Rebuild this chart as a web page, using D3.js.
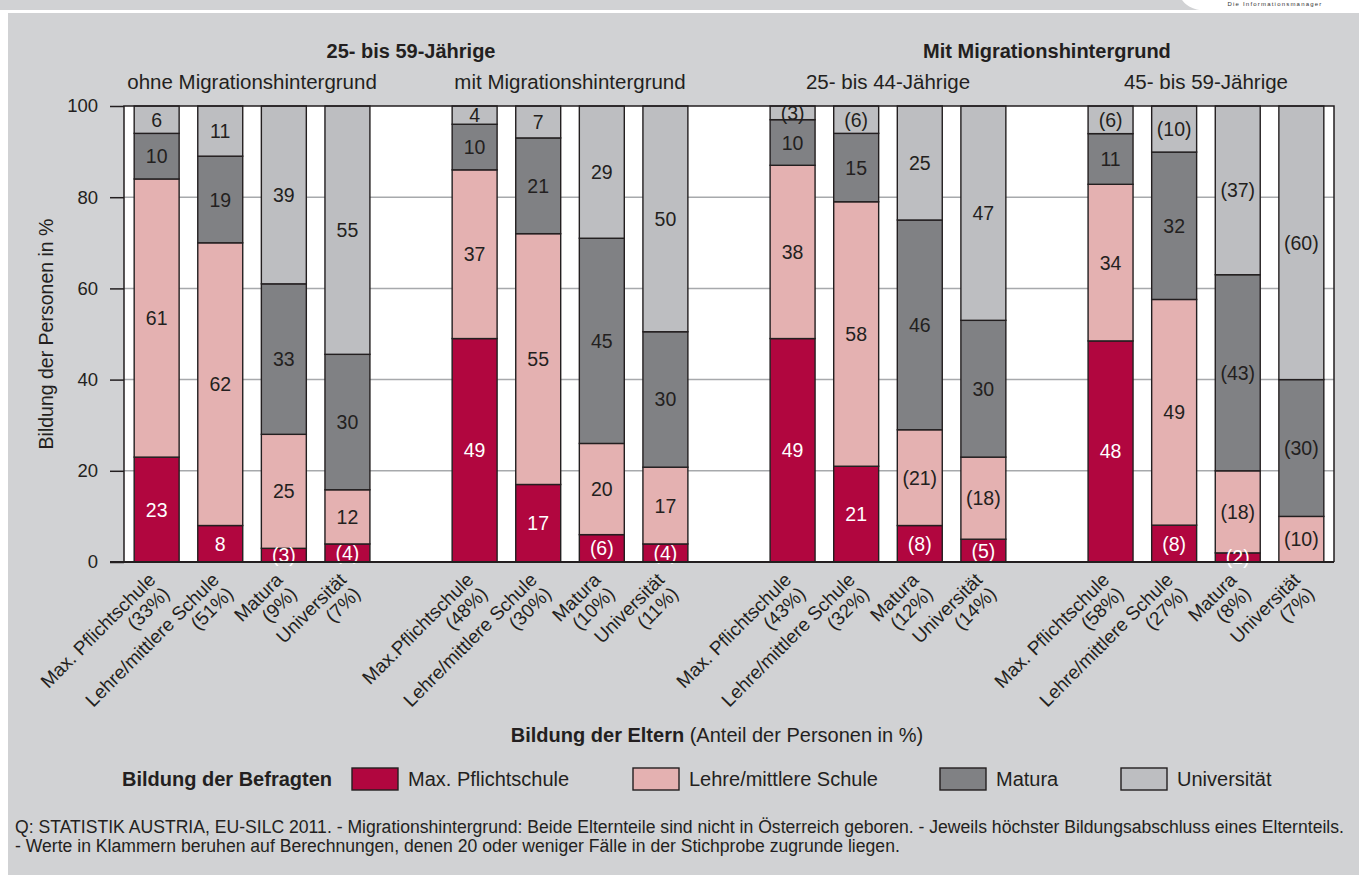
<!DOCTYPE html>
<html>
<head>
<meta charset="utf-8">
<script src="https://cdn.jsdelivr.net/npm/d3@7"></script>
<style>
  body { margin: 0; background: #fff; }
  svg { display: block; font-family: "Liberation Sans", Arial, Helvetica, sans-serif; }
</style>
</head>
<body>
<svg id="chart" width="1359" height="875"></svg>
<script>
// Daten
var gruppen = ["ohne Migrationshintergrund", "mit Migrationshintergrund", "25- bis 44-Jährige", "45- bis 59-Jährige"];
var obertitel = [
    { text: "25- bis 59-Jährige", von: 0, bis: 1 },
    { text: "Mit Migrationshintergrund", von: 2, bis: 3 }
];
var stufen = ["Max. Pflichtschule", "Lehre/mittlere Schule", "Matura", "Universität"];
var elternLabels = [
    ["Max. Pflichtschule", "Lehre/mittlere Schule", "Matura", "Universität"],
    ["Max.Pflichtschule", "Lehre/mittlere Schule", "Matura", "Universität"],
    ["Max. Pflichtschule", "Lehre/mittlere Schule", "Matura", "Universität"],
    ["Max. Pflichtschule", "Lehre/mittlere Schule", "Matura", "Universität"]
];
var anteilEltern = [[33, 51, 9, 7], [48, 30, 10, 11], [43, 32, 12, 14], [58, 27, 8, 7]];
// je Gruppe, je Elternbildung: [Pflichtschule, Lehre, Matura, Universität]
var werte = [
    [[23, 61, 10, 6], [8, 62, 19, 11], [3, 25, 33, 39], [4, 12, 30, 55]],
    [[49, 37, 10, 4], [17, 55, 21, 7], [6, 20, 45, 29], [4, 17, 30, 50]],
    [[49, 38, 10, 3], [21, 58, 15, 6], [8, 21, 46, 25], [5, 18, 30, 47]],
    [[48, 34, 11, 6], [8, 49, 32, 10], [2, 18, 43, 37], [0, 10, 30, 60]]
];
// 1 = Wert in Klammern (20 oder weniger Fälle)
var klammer = [
    [[0, 0, 0, 0], [0, 0, 0, 0], [1, 0, 0, 0], [1, 0, 0, 0]],
    [[0, 0, 0, 0], [0, 0, 0, 0], [1, 0, 0, 0], [1, 0, 0, 0]],
    [[0, 0, 0, 1], [0, 0, 0, 1], [1, 1, 0, 0], [1, 1, 0, 0]],
    [[0, 0, 0, 1], [1, 0, 0, 1], [1, 1, 1, 1], [1, 1, 1, 1]]
];
var yTicks = [0, 20, 40, 60, 80, 100];
var farben = ["#b1063f", "#e4b1b1", "#808184", "#bdbec1"];
var textFarben = ["#ffffff", "#231f20", "#231f20", "#231f20"];

var fussnote = [
    "Q: STATISTIK AUSTRIA, EU-SILC 2011. - Migrationshintergrund: Beide Elternteile sind nicht in Österreich geboren. - Jeweils höchster Bildungsabschluss eines Elternteils.",
    "- Werte in Klammern beruhen auf Berechnungen, denen 20 oder weniger Fälle in der Stichprobe zugrunde liegen."
];

var svg = d3.select("#chart");
var W = 1359, H = 875;
var plot = { left: 124, right: 1334, top: 106, bottom: 562 };
var dunkel = "#231f20";

// Hintergrund
svg.append("rect").attr("x", 0).attr("y", 0).attr("width", W).attr("height", H).attr("fill", "#fff");
svg.append("rect").attr("x", 0).attr("y", 0).attr("width", W).attr("height", 10).attr("fill", "#d1d2d4");
svg.append("path")
    .attr("d", "M1182,0 L1359,0 L1359,11 L1210,11 Q1190,11 1182,0 Z")
    .attr("fill", "#fff");
svg.append("text")
    .attr("x", 1275).attr("y", 6)
    .attr("text-anchor", "middle")
    .attr("font-size", 6).attr("letter-spacing", 1.2)
    .attr("fill", "#333")
    .text("Die Informationsmanager");
svg.append("rect").attr("x", 8).attr("y", 13).attr("width", W - 8).attr("height", H - 13).attr("fill", "#d1d2d4");

// Zeilen für die Balken
var rows = [];
var domain = [];
gruppen.forEach(function(g, gi) {
    if (gi > 0) domain.push("leer" + gi);
    for (var i = 0; i < 4; i++) {
        var key = gi + "-" + i;
        domain.push(key);
        rows.push({ key: key, gruppe: gi, i: i, label: elternLabels[gi][i], anteil: anteilEltern[gi][i],
                    werte: werte[gi][i], klammer: klammer[gi][i] });
    }
});

var x = d3.scaleBand().domain(domain).range([plot.left, plot.right]).paddingInner(0.293).paddingOuter(0.16);
var y = d3.scaleLinear().domain([0, 100]).range([plot.bottom, plot.top]);

var stack = d3.stack()
    .keys([0, 1, 2, 3])
    .value(function(d, k) { return d.werte[k]; })
    .offset(d3.stackOffsetExpand);
var serien = stack(rows);

// Plotfläche
svg.append("rect")
    .attr("x", plot.left).attr("y", plot.top)
    .attr("width", plot.right - plot.left).attr("height", plot.bottom - plot.top)
    .attr("fill", "#fff");

svg.append("g").selectAll("line")
    .data(yTicks.filter(function(t) { return t > 0 && t < 100; }))
    .join("line")
    .attr("x1", plot.left).attr("x2", plot.right)
    .attr("y1", function(d) { return y(d); }).attr("y2", function(d) { return y(d); })
    .attr("stroke", "#a7a9ac").attr("stroke-width", 1.5);

// Balken
var ebenen = svg.append("g").selectAll("g")
    .data(serien)
    .join("g")
    .attr("fill", function(s) { return farben[s.key]; });

ebenen.selectAll("rect")
    .data(function(s) { return s.filter(function(d) { return d[1] > d[0]; }); })
    .join("rect")
    .attr("x", function(d) { return x(d.data.key); })
    .attr("width", x.bandwidth())
    .attr("y", function(d) { return y(d[1] * 100); })
    .attr("height", function(d) { return y(d[0] * 100) - y(d[1] * 100); })
    .attr("stroke", dunkel).attr("stroke-width", 1.4);

// Wertbeschriftungen
serien.forEach(function(s) {
    var k = s.key;
    svg.append("g").selectAll("text")
        .data(s.filter(function(d) { return d.data.werte[k] > 0; }))
        .join("text")
        .attr("x", function(d) { return x(d.data.key) + x.bandwidth() / 2; })
        .attr("y", function(d) { return y((d[0] + d[1]) * 50); })
        .attr("dy", "0.36em")
        .attr("text-anchor", "middle")
        .attr("font-size", 19.5)
        .attr("fill", textFarben[k])
        .text(function(d) {
            var v = d.data.werte[k];
            return d.data.klammer[k] ? "(" + v + ")" : v;
        });
});

// Rahmen und Achsen
svg.append("path")
    .attr("d", "M" + plot.left + "," + plot.bottom + "V" + plot.top + "H" + plot.right + "V" + plot.bottom)
    .attr("fill", "none").attr("stroke", dunkel).attr("stroke-width", 1.5);
svg.append("line")
    .attr("x1", 110).attr("x2", plot.right)
    .attr("y1", plot.bottom).attr("y2", plot.bottom)
    .attr("stroke", dunkel).attr("stroke-width", 1.8);

var yAxis = d3.axisLeft(y).tickValues(yTicks).tickSize(14).tickPadding(12);
var yg = svg.append("g").attr("transform", "translate(" + plot.left + ",0)").call(yAxis);
yg.select(".domain").remove();
yg.selectAll(".tick line").attr("stroke", dunkel).attr("stroke-width", 1.5);
yg.selectAll(".tick text").attr("font-size", 18.5).attr("fill", dunkel).attr("font-family", null);

svg.append("text")
    .attr("transform", "translate(53," + ((plot.top + plot.bottom) / 2) + ") rotate(-90)")
    .attr("text-anchor", "middle")
    .attr("font-size", 19.5)
    .attr("fill", dunkel)
    .text("Bildung der Personen in %");

// X-Beschriftungen
var xl = svg.append("g").selectAll("g")
    .data(rows)
    .join("g")
    .attr("transform", function(d) {
        return "translate(" + (x(d.key) + x.bandwidth() / 2) + "," + (plot.bottom + 19) + ") rotate(-45)";
    });
xl.append("text")
    .attr("text-anchor", "end")
    .attr("font-size", 19)
    .attr("fill", dunkel)
    .text(function(d) { return d.label; });
xl.append("text")
    .attr("text-anchor", "end")
    .attr("y", 20)
    .attr("font-size", 19)
    .attr("fill", dunkel)
    .text(function(d) { return "(" + d.anteil + "%)"; });

// Gruppentitel
function gruppenMitte(gi) {
    return (x(gi + "-0") + x(gi + "-3") + x.bandwidth()) / 2;
}
svg.append("g").selectAll("text")
    .data(gruppen)
    .join("text")
    .attr("x", function(d, gi) { return gruppenMitte(gi); })
    .attr("y", 89)
    .attr("text-anchor", "middle")
    .attr("font-size", 20.5)
    .attr("fill", dunkel)
    .text(function(d) { return d; });
svg.append("g").selectAll("text")
    .data(obertitel)
    .join("text")
    .attr("x", function(d) { return (gruppenMitte(d.von) + gruppenMitte(d.bis)) / 2; })
    .attr("y", 58)
    .attr("text-anchor", "middle")
    .attr("font-size", 20)
    .attr("font-weight", "bold")
    .attr("fill", dunkel)
    .text(function(d) { return d.text; });

// X-Achsentitel
var xt = svg.append("text")
    .attr("x", 717).attr("y", 742)
    .attr("text-anchor", "middle")
    .attr("font-size", 20)
    .attr("fill", dunkel);
xt.append("tspan").attr("font-weight", "bold").text("Bildung der Eltern");
xt.append("tspan").text(" (Anteil der Personen in %)");

// Legende
var legY = 779;
svg.append("text")
    .attr("x", 122).attr("y", legY).attr("dy", "0.35em")
    .attr("font-size", 20).attr("font-weight", "bold").attr("fill", dunkel)
    .text("Bildung der Befragten");
var legX = [352, 633, 940, 1121];
var leg = svg.append("g").selectAll("g")
    .data(stufen)
    .join("g")
    .attr("transform", function(d, i) { return "translate(" + legX[i] + "," + legY + ")"; });
leg.append("rect")
    .attr("x", 0).attr("y", -11).attr("width", 46).attr("height", 22)
    .attr("fill", function(d, i) { return farben[i]; })
    .attr("stroke", dunkel).attr("stroke-width", 1.4);
leg.append("text")
    .attr("x", 56).attr("dy", "0.35em")
    .attr("font-size", 20).attr("fill", dunkel)
    .text(function(d) { return d; });

// Fußnote
svg.append("g").selectAll("text")
    .data(fussnote)
    .join("text")
    .attr("x", 15)
    .attr("y", function(d, i) { return 833 + i * 19; })
    .attr("font-size", 17.6)
    .attr("fill", dunkel)
    .text(function(d) { return d; });
</script>
</body>
</html>
